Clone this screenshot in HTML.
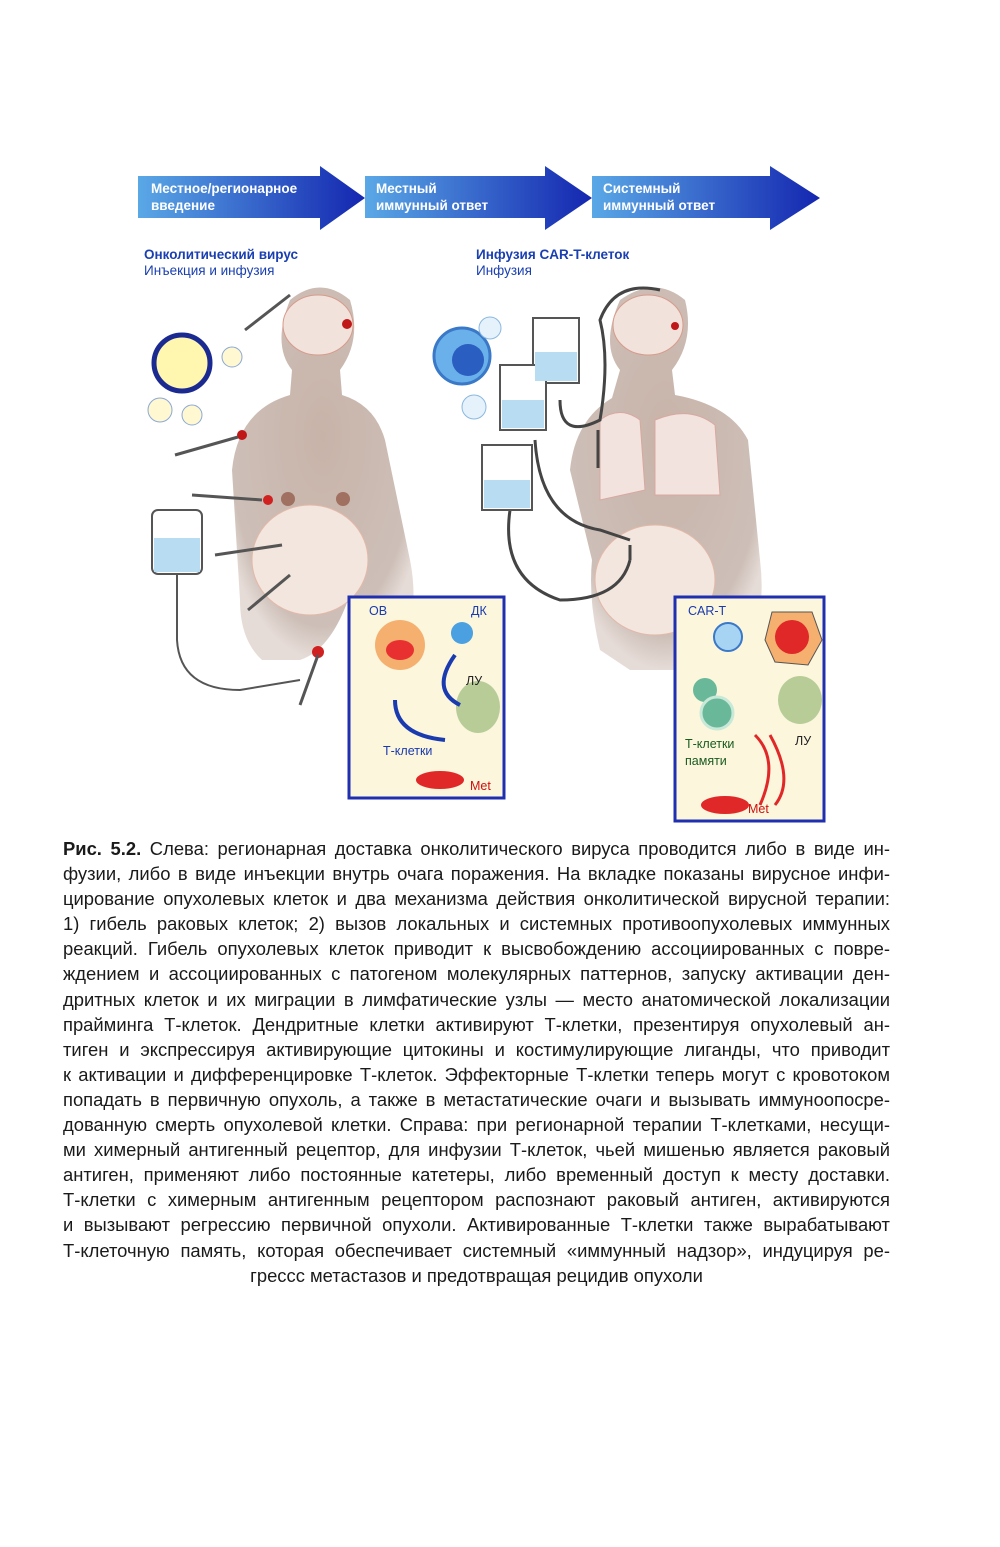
<!DOCTYPE html>
<html><head><meta charset="utf-8"><style>
html,body{margin:0;padding:0;background:#fff}
body{width:1000px;height:1547px;position:relative;overflow:hidden;font-family:"Liberation Sans",sans-serif}
.cap{position:absolute;left:63px;width:827px;font-size:18.4px;color:#1a1a1a;letter-spacing:0}
.cap div{height:25.1px;line-height:25.1px;text-align:justify;text-align-last:justify;white-space:nowrap}
.cap div.last{text-align-last:center}
</style></head><body>
<svg width="1000" height="830" style="position:absolute;left:0;top:0" font-family="Liberation Sans, sans-serif">
<defs>
<linearGradient id="ag" x1="0" x2="1"><stop offset="0" stop-color="#5aa8e6"/><stop offset="1" stop-color="#1426b0"/></linearGradient>
<radialGradient id="sk" cx="0.5" cy="0.4" r="0.6"><stop offset="0" stop-color="#c8b3a8"/><stop offset="0.85" stop-color="#cdbfb8"/><stop offset="1" stop-color="#e6dcd7"/></radialGradient>
</defs>
<polygon points="138,176 320,176 320,166 365,198 320,230 320,218 138,218" fill="url(#ag)"/>
<polygon points="365,176 545,176 545,166 592,198 545,230 545,218 365,218" fill="url(#ag)"/>
<polygon points="592,176 770,176 770,166 820,198 770,230 770,218 592,218" fill="url(#ag)"/>
<g fill="#fff" font-weight="bold" font-size="13.5">
<text x="151" y="193">Местное/регионарное</text><text x="151" y="210">введение</text>
<text x="376" y="193">Местный</text><text x="376" y="210">иммунный ответ</text>
<text x="603" y="193">Системный</text><text x="603" y="210">иммунный ответ</text>
</g>
<g font-size="13.5" fill="#1a3fb0">
<text x="144" y="259" font-weight="bold">Онколитический вирус</text><text x="144" y="275">Инъекция и инфузия</text>
<text x="476" y="259" font-weight="bold">Инфузия CAR-T-клеток</text><text x="476" y="275">Инфузия</text>
</g>
<path d="M290,300 Q320,275 350,300 Q362,340 340,370 L342,395 Q375,405 385,440 L410,560 Q418,600 408,640 L348,660 L348,600 Q330,650 300,660 L262,660 Q240,640 240,600 L232,470 Q238,410 290,395 L292,370 Q272,345 290,300Z" fill="url(#sk)"/>
<ellipse cx="318" cy="325" rx="35" ry="30" fill="#f1e2dc" stroke="#d89a8a"/>
<circle cx="347" cy="324" r="5" fill="#c01818"/>
<ellipse cx="310" cy="560" rx="58" ry="55" fill="#f2e6de" stroke="#e3b8a8"/>
<circle cx="242" cy="435" r="5" fill="#c01818"/><circle cx="268" cy="500" r="5" fill="#d02020"/>
<circle cx="288" cy="499" r="7" fill="#a07060"/><circle cx="343" cy="499" r="7" fill="#a07060"/>
<circle cx="318" cy="652" r="6" fill="#d02020"/>
<g stroke="#555" stroke-width="3">
<line x1="245" y1="330" x2="290" y2="295"/><line x1="175" y1="455" x2="238" y2="437"/>
<line x1="192" y1="495" x2="262" y2="500"/><line x1="215" y1="555" x2="282" y2="545"/>
<line x1="248" y1="610" x2="290" y2="575"/><line x1="300" y1="705" x2="318" y2="655"/>
</g>
<rect x="152" y="510" width="50" height="64" rx="6" fill="#fff" stroke="#555" stroke-width="2"/>
<rect x="154" y="538" width="46" height="34" fill="#b8dcf2"/>
<path d="M177,574 L177,640 Q180,690 240,690 L300,680" fill="none" stroke="#555" stroke-width="2"/>
<circle cx="182" cy="363" r="28" fill="#fff6b0" stroke="#1a2a90" stroke-width="5"/>
<circle cx="232" cy="357" r="10" fill="#fff8d0" stroke="#8aa8d8"/><circle cx="160" cy="410" r="12" fill="#fff8d0" stroke="#8aa8d8"/><circle cx="192" cy="415" r="10" fill="#fff8d0" stroke="#8aa8d8"/>
<path d="M620,300 Q655,275 685,300 Q695,340 672,370 L675,395 Q730,405 748,440 L760,560 Q765,600 755,640 L700,670 L630,670 L600,650 Q588,600 592,560 L570,470 Q575,420 612,398 L620,370 Q600,345 620,300Z" fill="url(#sk)"/>
<ellipse cx="648" cy="325" rx="35" ry="30" fill="#f1e2dc" stroke="#d89a8a"/>
<circle cx="675" cy="326" r="4" fill="#c01818"/>
<path d="M600,420 Q620,405 640,420 L645,490 L600,500Z M655,420 Q690,405 715,425 L720,495 L655,495Z" fill="#f3e3df" stroke="#d8a8a0"/>
<ellipse cx="655" cy="580" rx="60" ry="55" fill="#f2e6de" stroke="#e3b8a8"/>
<g stroke="#444" stroke-width="3" fill="none">
<path d="M598,468 L598,430"/><path d="M630,560 L630,545"/>
<path d="M560,400 Q560,440 600,420 Q610,360 600,320 Q615,280 660,290"/>
<path d="M510,510 Q500,580 560,600 Q620,600 630,560"/>
<path d="M535,440 Q540,520 600,530 L630,540"/>
</g>
<g fill="#fff" stroke="#555" stroke-width="2">
<rect x="533" y="318" width="46" height="65"/><rect x="500" y="365" width="46" height="65"/><rect x="482" y="445" width="50" height="65"/>
</g>
<g fill="#b8dcf2"><rect x="535" y="352" width="42" height="29"/><rect x="502" y="400" width="42" height="28"/><rect x="484" y="480" width="46" height="28"/></g>
<circle cx="462" cy="356" r="28" fill="#6ab0ea" stroke="#3a78c8" stroke-width="3"/><circle cx="468" cy="360" r="16" fill="#2a5ec0"/>
<circle cx="490" cy="328" r="11" fill="#e6f2fb" stroke="#8ab8e0"/><circle cx="474" cy="407" r="12" fill="#e6f2fb" stroke="#8ab8e0"/>
<rect x="349" y="597" width="155" height="201" fill="#fbf6dc" stroke="#1f2fb0" stroke-width="3"/>
<rect x="675" y="597" width="149" height="224" fill="#fbf6dc" stroke="#1f2fb0" stroke-width="3"/>
<ellipse cx="400" cy="645" rx="25" ry="25" fill="#f5b070"/><ellipse cx="400" cy="650" rx="14" ry="10" fill="#e83030"/>
<circle cx="462" cy="633" r="11" fill="#4aa0e0"/>
<ellipse cx="478" cy="707" rx="22" ry="26" fill="#b8cc98"/>
<path d="M395,700 Q395,735 445,740" fill="none" stroke="#1a3ab0" stroke-width="4"/>
<path d="M455,655 Q430,690 460,705" fill="none" stroke="#1a3ab0" stroke-width="4"/>
<ellipse cx="440" cy="780" rx="24" ry="9" fill="#e02828"/>
<g font-size="12.5"><text x="369" y="615" fill="#1a3ab0">ОВ</text><text x="471" y="615" fill="#1a3ab0">ДК</text>
<text x="466" y="685" fill="#222">ЛУ</text><text x="383" y="755" fill="#1a3ab0">Т-клетки</text><text x="470" y="790" fill="#d01010">Met</text>
<text x="688" y="615" fill="#1a3ab0">CAR-T</text><text x="795" y="745" fill="#222">ЛУ</text>
<text x="685" y="748" fill="#1a5a20">Т-клетки</text><text x="685" y="765" fill="#1a5a20">памяти</text><text x="748" y="813" fill="#d01010">Met</text></g>
<circle cx="728" cy="637" r="14" fill="#a8d4f4" stroke="#3a78c8" stroke-width="2"/>
<polygon points="772,612 812,612 822,640 808,665 775,662 765,640" fill="#f5b070" stroke="#555"/><circle cx="792" cy="637" r="17" fill="#e02828"/>
<circle cx="705" cy="690" r="12" fill="#6ab89a"/><circle cx="717" cy="713" r="16" fill="#6ab89a" stroke="#c8e8d8" stroke-width="3"/>
<ellipse cx="800" cy="700" rx="22" ry="24" fill="#b8cc98"/>
<path d="M755,735 Q780,760 760,805 M770,735 Q795,780 775,805" fill="none" stroke="#e02828" stroke-width="3"/>
<ellipse cx="725" cy="805" rx="24" ry="9" fill="#e02828"/>
</svg>
<div class="cap" style="top:836px">
<div><b>Рис. 5.2.</b> Слева: регионарная доставка онколитического вируса проводится либо в виде ин-</div>
<div>фузии, либо в виде инъекции внутрь очага поражения. На вкладке показаны вирусное инфи-</div>
<div>цирование опухолевых клеток и два механизма действия онколитической вирусной терапии:</div>
<div>1) гибель раковых клеток; 2) вызов локальных и системных противоопухолевых иммунных</div>
<div>реакций. Гибель опухолевых клеток приводит к высвобождению ассоциированных с повре-</div>
<div>ждением и ассоциированных с патогеном молекулярных паттернов, запуску активации ден-</div>
<div>дритных клеток и их миграции в лимфатические узлы — место анатомической локализации</div>
<div>прайминга Т-клеток. Дендритные клетки активируют Т-клетки, презентируя опухолевый ан-</div>
<div>тиген и экспрессируя активирующие цитокины и костимулирующие лиганды, что приводит</div>
<div>к активации и дифференцировке Т-клеток. Эффекторные Т-клетки теперь могут с кровотоком</div>
<div>попадать в первичную опухоль, а также в метастатические очаги и вызывать иммуноопосре-</div>
<div>дованную смерть опухолевой клетки. Справа: при регионарной терапии Т-клетками, несущи-</div>
<div>ми химерный антигенный рецептор, для инфузии Т-клеток, чьей мишенью является раковый</div>
<div>антиген, применяют либо постоянные катетеры, либо временный доступ к месту доставки.</div>
<div>Т-клетки с химерным антигенным рецептором распознают раковый антиген, активируются</div>
<div>и вызывают регрессию первичной опухоли. Активированные Т-клетки также вырабатывают</div>
<div>Т-клеточную память, которая обеспечивает системный «иммунный надзор», индуцируя ре-</div>
<div class="last">грессс метастазов и предотвращая рецидив опухоли</div>
</div>
</body></html>
